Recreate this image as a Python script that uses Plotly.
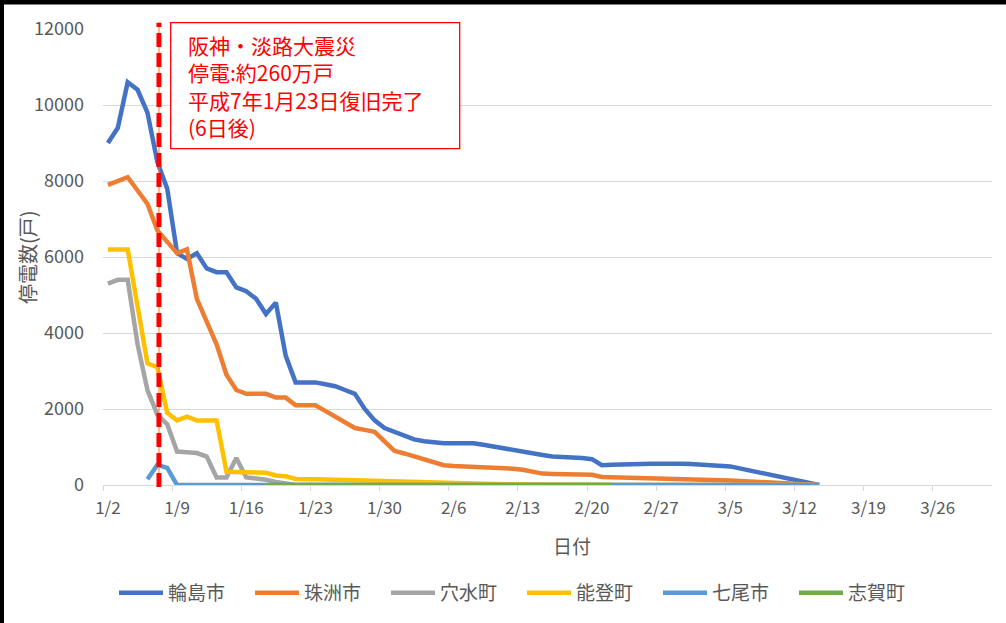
import pandas as pd
import plotly.graph_objects as go

# ---------------- data ----------------
wajima_dates = ["01-02","01-03","01-04","01-05","01-06","01-07","01-08","01-09","01-10","01-11",
                "01-12","01-13","01-14","01-15","01-16","01-17","01-18","01-19","01-20","01-21",
                "01-22","01-23","01-24","01-25","01-26","01-27","01-28","01-29","01-30","01-31",
                "02-01","02-02","02-03","02-04","02-05","02-06","02-07","02-08","02-09","02-10",
                "02-11","02-12","02-13","02-14","02-15","02-16","02-17","02-18","02-19","02-20",
                "02-21","02-22","02-23","02-24","02-25","02-26","02-27","02-28","02-29","03-01",
                "03-02","03-03","03-04","03-05","03-14"]
wajima = [9000, 9400, 10600, 10400, 9800, 8500, 7800, 6100, 5950, 6100,
          5700, 5600, 5600, 5200, 5100, 4900, 4500, 4800, 3400, 2700,
          2700, 2700, 2650, 2600, 2500, 2400, 2000, 1700, 1500, 1400,
          1300, 1200, 1150, 1120, 1100, 1100, 1100, 1100, 1060, 1010,
          970, 930, 880, 840, 790, 750, 740, 730, 710, 680,
          520, 530, 530, 540, 550, 560, 560, 580, 560, 550,
          530, 520, 500, 490, 0]

suzu_dates = ["01-02","01-03","01-04","01-05","01-06","01-07","01-08","01-09","01-10","01-11",
              "01-12","01-13","01-14","01-15","01-16","01-17","01-18","01-19","01-20","01-21",
              "01-22","01-23","01-24","01-25","01-26","01-27","01-28","01-29","01-30","01-31",
              "02-01","02-02","02-03","02-04","02-05","02-06","02-07","02-08","02-09","02-10",
              "02-11","02-12","02-13","02-14","02-15","02-16","02-17","02-18","02-19","02-20",
              "02-21","02-28","03-05","03-14"]
suzu = [7900, 8000, 8100, 7750, 7400, 6700, 6400, 6100, 6200, 4900,
        4300, 3700, 2900, 2500, 2400, 2400, 2400, 2300, 2300, 2100,
        2100, 2100, 1950, 1800, 1650, 1500, 1450, 1400, 1150, 900,
        830, 750, 670, 590, 520, 500, 490, 470, 460, 450,
        450, 430, 400, 350, 300, 290, 290, 290, 280, 270,
        210, 175, 120, 0]

anamizu_dates = ["01-02","01-03","01-04","01-05","01-06","01-07","01-08","01-09","01-10","01-11",
                 "01-12","01-13","01-14","01-15","01-16","01-17","01-18","01-19","01-20","01-21",
                 "03-14"]
anamizu = [5300, 5400, 5400, 3700, 2500, 1850, 1600, 880, 860, 840,
           750, 200, 200, 710, 200, 180, 140, 80, 40, 0,
           0]

noto_dates = ["01-02","01-03","01-04","01-05","01-06","01-07","01-08","01-09","01-10","01-11",
              "01-12","01-13","01-14","01-15","01-16","01-17","01-18","01-19","01-20","01-21",
              "01-22","01-23","01-28","02-01","02-05","02-09","02-15","02-22","03-14"]
noto = [6200, 6200, 6200, 4700, 3200, 3100, 1900, 1700, 1800, 1700,
        1700, 1700, 350, 350, 350, 330, 320, 250, 230, 160,
        150, 150, 120, 90, 50, 30, 10, 0, 0]

nanao_dates = ["01-06","01-07","01-08","01-09","03-14"]
nanao = [150, 530, 450, 0, 0]

shika_dates = ["01-18","02-22"]
shika = [0, 0]

series_names = ["輪島市", "珠洲市", "穴水町", "能登町", "七尾市", "志賀町"]
series_colors = ["#4472C4", "#ED7D31", "#A5A5A5", "#FFC000", "#5B9BD5", "#70AD47"]

tick_labels = ["1/2", "1/9", "1/16", "1/23", "1/30", "2/6", "2/13", "2/20",
               "2/27", "3/5", "3/12", "3/19", "3/26"]
tick_dates = ["01-02", "01-09", "01-16", "01-23", "01-30", "02-06", "02-13", "02-20",
              "02-27", "03-05", "03-12", "03-19", "03-26"]
y_ticks = [0, 2000, 4000, 6000, 8000, 10000, 12000]

note_lines = ["阪神・淡路大震災", "停電:約260万戸", "平成7年1月23日復旧完了", "(6日後)"]
x_title = "日付"
y_title = "停電数(戸)"
year = "2024-"
event_time = "2024-01-07 16:00"

# ---------------- figure ----------------
def to_x(dates):
    # Excel date axis: points sit at the middle of each day
    return pd.to_datetime([year + d for d in dates]) + pd.Timedelta(hours=12)

W, H = 1006, 623
L, R, T, B = 103, 14, 29, 138
pw, ph = W - L - R, H - T - B

def px(xp):
    return (xp - L) / pw

def py(yp):
    return (H - B - yp) / ph

fig = go.Figure()
all_dates = [wajima_dates, suzu_dates, anamizu_dates, noto_dates, nanao_dates, shika_dates]
all_vals = [wajima, suzu, anamizu, noto, nanao, shika]
for name, color, d, v in zip(series_names, series_colors, all_dates, all_vals):
    fig.add_trace(go.Scatter(x=to_x(d), y=v, name=name, mode="lines",
                             line=dict(color=color, width=4.5)))

font_jp = "Noto Sans CJK JP, Noto Sans, sans-serif"
gray_txt = "#595959"

fig.update_layout(
    width=W, height=H,
    margin=dict(l=L, r=R, t=T, b=B, autoexpand=False),
    paper_bgcolor="white", plot_bgcolor="white",
    font=dict(family=font_jp, color=gray_txt, size=17),
    showlegend=True,
    legend=dict(orientation="h", x=px(522), y=py(593), xanchor="center", yanchor="middle",
                font=dict(size=19, color=gray_txt), entrywidth=77, entrywidthmode="pixels",
                itemwidth=44, bgcolor="rgba(0,0,0,0)"),
    xaxis=dict(
        type="date",
        range=[pd.Timestamp("2024-01-02"), pd.Timestamp("2024-04-01")],
        tickmode="array", tickvals=to_x(tick_dates), ticktext=tick_labels,
        ticks="", showgrid=False, zeroline=False,
        showline=True, linecolor="#D9D9D9", linewidth=1,
        tickfont=dict(size=17, color=gray_txt), ticklabelstandoff=8,
        minor=dict(tickmode="linear", tick0="2024-01-02", dtick=7 * 86400000,
                   ticks="outside", ticklen=5, tickcolor="#D9D9D9", tickwidth=1, showgrid=False),
    ),
    yaxis=dict(
        range=[0, 12000], tickmode="array", tickvals=y_ticks,
        ticktext=[str(v) for v in y_ticks],
        showgrid=True, gridcolor="#D9D9D9", gridwidth=1.2, zeroline=False,
        showline=False, ticks="",
        tickfont=dict(size=18, color=gray_txt), ticklabelstandoff=18,
    ),
)

# axis titles
fig.add_annotation(xref="paper", yref="paper", x=px(572), y=py(545), text=x_title,
                   showarrow=False, xanchor="center", yanchor="middle",
                   font=dict(size=19, color=gray_txt))
fig.add_annotation(xref="paper", yref="paper", x=px(27.5), y=py(257.5), text=y_title,
                   showarrow=False, xanchor="center", yanchor="middle", textangle=-90,
                   font=dict(size=20, color=gray_txt))

# black border at top and left edges of the picture
fig.add_shape(type="rect", xref="paper", yref="paper", x0=px(-5), x1=px(W + 5),
              y0=py(4.5), y1=py(-5), fillcolor="black", line_width=0, layer="above")
fig.add_shape(type="rect", xref="paper", yref="paper", x0=px(-5), x1=px(4),
              y0=py(H + 5), y1=py(-5), fillcolor="black", line_width=0, layer="above")

# event marker line (thin orange under red dashed)
fig.add_shape(type="line", xref="x", yref="paper", x0=pd.Timestamp(event_time),
              x1=pd.Timestamp(event_time), y0=py(487), y1=py(22.7),
              line=dict(color="#ED7D31", width=1), layer="above")
fig.add_shape(type="line", xref="x", yref="paper", x0=pd.Timestamp(event_time),
              x1=pd.Timestamp(event_time), y0=py(487), y1=py(22.7),
              line=dict(color="#FF0000", width=5, dash="14px,6px"), layer="above")

# note box
fig.add_shape(type="rect", xref="paper", yref="paper", x0=px(170.7), x1=px(459.7),
              y0=py(148.7), y1=py(22.7), fillcolor="white",
              line=dict(color="#FF0000", width=1.3), layer="above")
fig.add_annotation(xref="paper", yref="paper", x=px(186), y=py(86), text="<br>".join(note_lines),
                   showarrow=False, xanchor="left", yanchor="middle", align="left",
                   font=dict(size=21, color="#FF0000", family=font_jp))

fig.write_html("out.html", config={"displayModeBar": False},
               post_script="document.body.style.margin='0';document.body.style.overflow='hidden';")
